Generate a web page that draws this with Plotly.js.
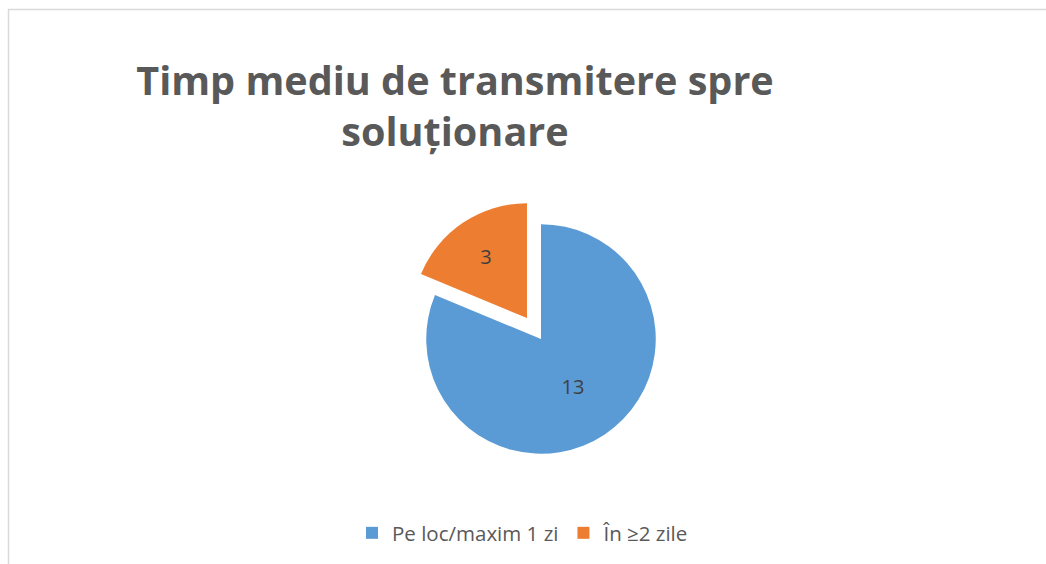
<!DOCTYPE html>
<html>
<head>
<meta charset="utf-8">
<script src="https://cdn.plot.ly/plotly-3.0.1.min.js"></script>
<style>
  html, body { margin: 0; padding: 0; background: #ffffff; }
  #chart { width: 1046px; height: 564px; }
</style>
</head>
<body>
<div id="chart"></div>
<script>
const categories = ["Pe loc/maxim 1 zi", "În ≥2 zile"];
const values = [13, 3];
const colors = ["#5B9BD5", "#ED7D31"];
const pulls = [0, 0.22];
const chartTitle = "Timp mediu de transmitere spre<br>soluționare";

const W = 1046, H = 564;
const cx = 541, cy = 339, half = 140;

const trace = {
  type: "pie",
  labels: categories,
  values: values,
  marker: { colors: colors, line: { width: 0 } },
  pull: pulls,
  sort: false,
  direction: "clockwise",
  rotation: 0,
  textinfo: "value",
  textposition: "inside",
  insidetextorientation: "horizontal",
  textfont: { family: "Open Sans, sans-serif", size: 20, color: "#404040" },
  hoverinfo: "label+value",
  domain: {
    x: [(cx - half) / W, (cx + half) / W],
    y: [1 - (cy + half) / H, 1 - (cy - half) / H]
  }
};

const layout = {
  width: W,
  height: H,
  margin: { l: 0, r: 0, t: 0, b: 0 },
  paper_bgcolor: "#ffffff",
  showlegend: true,
  title: {
    text: chartTitle,
    font: { family: "Open Sans, sans-serif", size: 39.6, color: "#595959", weight: "bold" },
    x: 455 / W,
    xanchor: "center",
    y: 1 - 95 / H,
    yanchor: "top",
    xref: "paper",
    yref: "paper"
  },
  legend: {
    orientation: "h",
    x: 0.5,
    xanchor: "center",
    y: 1 - 533 / H,
    yanchor: "middle",
    font: { family: "Open Sans, sans-serif", size: 20.5, color: "#595959" },
    itemclick: false,
    itemdoubleclick: false
  },
  shapes: [
    { type: "line", xref: "paper", yref: "paper", x0: 8 / W, x1: 1.01, y0: 1 - 9.5 / H, y1: 1 - 9.5 / H, line: { color: "#D9D9D9", width: 1.5 } },
    { type: "line", xref: "paper", yref: "paper", x0: 8.5 / W, x1: 8.5 / W, y0: 1 - 9 / H, y1: -0.01, line: { color: "#D9D9D9", width: 1.5 } }
  ]
};

Plotly.newPlot("chart", [trace], layout, { displayModeBar: false, staticPlot: true });
</script>
</body>
</html>
